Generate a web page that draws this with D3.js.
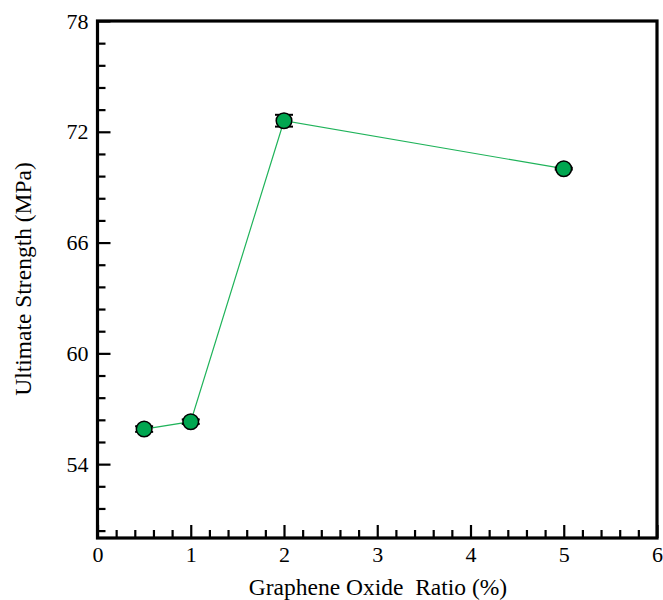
<!DOCTYPE html>
<html><head><meta charset="utf-8">
<script src="https://cdn.jsdelivr.net/npm/d3@7"></script>
<style>body{margin:0;background:#fff}svg{display:block}</style>
</head><body>
<svg id="c" width="663" height="600"></svg>
<script>
const ratios = [0.5, 1, 2, 5];
const strength = [55.9, 56.3, 72.6, 70.0];
const errors = [0.15, 0.12, 0.32, 0.05];
const xMajorTicks = [0, 1, 2, 3, 4, 5, 6];
const yMajorTicks = [54, 60, 66, 72, 78];
const xTitle = "Graphene Oxide\u00a0 Ratio (%)";
const yTitle = "Ultimate Strength (MPa)";

const FONT = "'Liberation Serif', 'Times New Roman', Times, serif";
const svg = d3.select("#c");
const L = 97.5, R = 657, T = 21, B = 538;
const x = d3.scaleLinear().domain([0, 6]).range([L, R]);
const y = d3.scaleLinear().domain([50, 78]).range([B, T]);

const xMinor = d3.range(0, 6.0001, 0.2).filter(v => Math.abs(v - Math.round(v)) > 1e-6);
const yMinor = [];
for (let v = 78; v >= 50; v -= 1.2) { const r = Math.round(v*10)/10; if (!yMajorTicks.includes(r)) yMinor.push(r); }

// x axis
const gx = svg.append("g").attr("transform", `translate(0,${B})`);
gx.call(d3.axisBottom(x).tickValues(xMajorTicks).tickSize(-13).tickPadding(8).tickFormat(d3.format("d")));
gx.append("g").call(d3.axisBottom(x).tickValues(xMinor).tickSize(-8).tickFormat(""));
// y axis
const gy = svg.append("g").attr("transform", `translate(${L},0)`);
gy.call(d3.axisLeft(y).tickValues(yMajorTicks).tickSize(-13).tickPadding(9).tickFormat(d3.format("d")));
gy.append("g").call(d3.axisLeft(y).tickValues(yMinor).tickSize(-8).tickFormat(""));
svg.selectAll(".domain").remove();
svg.selectAll("g").attr("font-family", null).attr("font-size", null);
svg.selectAll(".tick line").attr("stroke", "#000").attr("stroke-width", 2.2);
svg.selectAll(".tick text").style("font-family", FONT).style("font-size", "22px").attr("fill", "#000");

// frame
svg.append("rect").attr("x", L).attr("y", T).attr("width", R - L).attr("height", B - T)
  .attr("fill", "none").attr("stroke", "#000").attr("stroke-width", 3.2);

// line
const pts = ratios.map((r, i) => [r, strength[i], errors[i]]);
svg.append("path").datum(pts)
  .attr("d", d3.line().x(d => x(d[0])).y(d => y(d[1])))
  .attr("fill", "none").attr("stroke", "#1fb35a").attr("stroke-width", 1.2);

// error bars
const eb = svg.append("g").selectAll("g").data(pts).join("g");
eb.append("line").attr("x1", d => x(d[0])).attr("x2", d => x(d[0]))
  .attr("y1", d => y(d[1] - d[2])).attr("y2", d => y(d[1] + d[2])).attr("stroke", "#000").attr("stroke-width", 1.5);
eb.append("line").attr("x1", d => x(d[0]) - 9).attr("x2", d => x(d[0]) + 9)
  .attr("y1", d => y(d[1] + d[2])).attr("y2", d => y(d[1] + d[2])).attr("stroke", "#000").attr("stroke-width", 2);
eb.append("line").attr("x1", d => x(d[0]) - 9).attr("x2", d => x(d[0]) + 9)
  .attr("y1", d => y(d[1] - d[2])).attr("y2", d => y(d[1] - d[2])).attr("stroke", "#000").attr("stroke-width", 2);

// markers
svg.append("g").selectAll("circle").data(pts).join("circle")
  .attr("cx", d => x(d[0])).attr("cy", d => y(d[1])).attr("r", 7.8)
  .attr("fill", "#00a650").attr("stroke", "#000").attr("stroke-width", 1.5);

// titles
svg.append("text").attr("x", 378).attr("y", 595).attr("text-anchor", "middle")
  .style("font-family", FONT).style("font-size", "23.5px").text(xTitle);
svg.append("text").attr("transform", `translate(31,279) rotate(-90)`).attr("text-anchor", "middle")
  .style("font-family", FONT).style("font-size", "23.5px").text(yTitle);
</script>
</body></html>
